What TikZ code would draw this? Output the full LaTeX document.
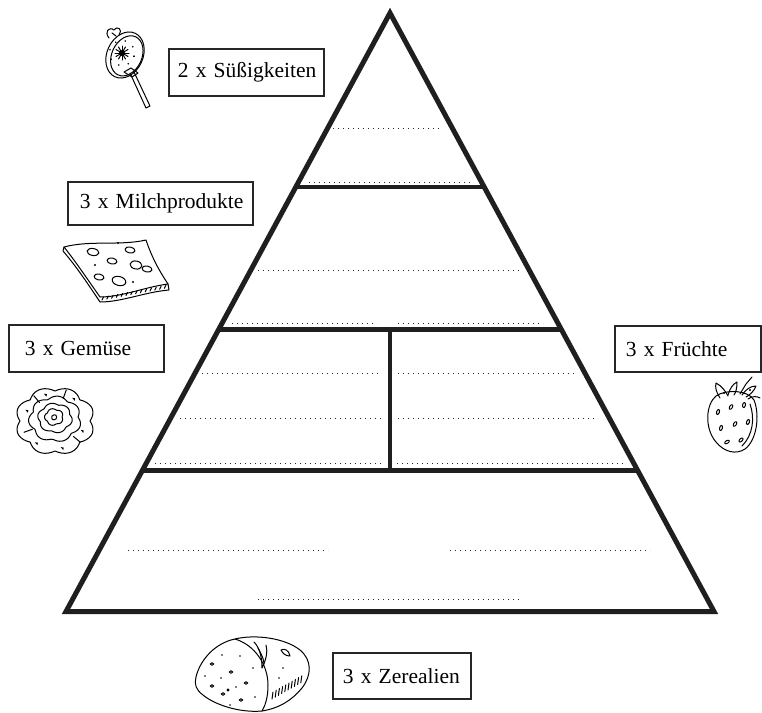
\documentclass[tikz,border=0pt]{standalone}
\usepackage{fontspec}
\setmainfont{Liberation Serif}
\usetikzlibrary{calc}
\begin{document}
\begin{tikzpicture}[x=1pt,y=-1pt,
  pyr/.style={line width=5pt, line join=miter, draw=black!88},
  bar/.style={line width=4.5pt, draw=black!88},
  dots/.style={line width=1pt, dash pattern=on 1pt off 4pt, draw=black!85},
  lbl/.style={draw=black!85, line width=1.8pt, anchor=north west, inner xsep=10pt,
    inner ysep=0pt, align=left, font=\fontsize{21.5}{24}\selectfont},
  art/.style={line width=1pt, line cap=round, line join=round, draw=black}
]
\useasboundingbox (0,0) rectangle (762,712);

% ---------- pyramid ----------
\coordinate (apex) at (390,13);
\coordinate (bl) at (66,611.5);
\coordinate (br) at (714,611.5);
\draw[pyr] (apex) -- (bl) -- (br) -- cycle;

\coordinate (b1l) at ($(apex)!0.291!(bl)$);  \coordinate (b1r) at ($(apex)!0.291!(br)$);
\coordinate (b2l) at ($(apex)!0.5284!(bl)$); \coordinate (b2r) at ($(apex)!0.5284!(br)$);
\coordinate (b3l) at ($(apex)!0.7642!(bl)$); \coordinate (b3r) at ($(apex)!0.7642!(br)$);
\draw[bar] (b1l) -- (b1r);
\draw[bar] (b2l) -- (b2r);
\draw[bar] (b3l) -- (b3r);
\coordinate (mtop) at ($(b2l)!0.5!(b2r)$);
\coordinate (mbot) at ($(b3l)!0.5!(b3r)$);
\draw[bar] (mtop) -- (mbot);

% ---------- writing lines ----------
\draw[dots] (333,128) -- (442,128);
\draw[dots] (309,182) -- (471,182);
\draw[dots] (258,270) -- (520,270);
\draw[dots] (232,323) -- (377,323);  \draw[dots] (398,323) -- (543,323);
\draw[dots] (202,373) -- (381,373);  \draw[dots] (398,373) -- (577,373);
\draw[dots] (180,418) -- (381,418);  \draw[dots] (398,418) -- (598,418);
\draw[dots] (155,463) -- (382,463);  \draw[dots] (397,463) -- (623,463);
\draw[dots] (128,550) -- (328,550);  \draw[dots] (450,550) -- (650,550);
\draw[dots] (258,599) -- (520,599);

% ---------- labels ----------
\node[lbl, inner xsep=9pt, minimum width=155pt, minimum height=47pt, text width=137pt] (sweets) at (168,48) {\mbox{2 x Süßigkeiten}};
\node[lbl, inner xsep=12pt, minimum width=185pt, minimum height=43pt, text width=161pt] (dairy) at (67,181) {\mbox{3 x Milchprodukte}};
\node[lbl, inner xsep=16pt, minimum width=155pt, minimum height=47pt, text width=123pt] (veg) at (8,324) {\mbox{3 x Gemüse}};
\node[lbl, inner xsep=11pt, minimum width=146pt, minimum height=46pt, text width=124pt] (fruit) at (614,325) {\mbox{3 x Früchte}};
\node[lbl, minimum width=138pt, minimum height=46pt, text width=118pt] (cereal) at (332,652) {\mbox{3 x Zerealien}};

% ---------- lollipop ----------
\begin{scope}[art]
  \draw (130,73) -- (146,108) -- (150,106) -- (134,72);
  \draw[rotate around={-25:(125,55)}] (125,55) ellipse [x radius=18, y radius=24];
  \draw[rotate around={-25:(125,55)}] (127,55) ellipse [x radius=15, y radius=21];
  \foreach \a in {0,30,...,330} \draw (122,53) -- ++(\a:7);
  \fill (122,53) circle [radius=3];
  \foreach \a in {15,60,...,375} \fill ($(122,53)+(\a:12.5)$) circle [radius=0.9];
  \draw (109,38) .. controls (104,32) and (109,26) .. (114,30)
        .. controls (118,25) and (123,30) .. (119,35);
  \draw (112,33) -- (116,36);
  \draw (124,72) -- (131,68) -- (138,73) -- (132,77) -- cycle;
\end{scope}

% ---------- cheese slice ----------
\begin{scope}[art]
  \draw (64,247) .. controls (90,240) and (120,246) .. (146,240)
        .. controls (152,258) and (160,272) .. (168,284)
        .. controls (145,287) and (122,297) .. (100,297)
        .. controls (88,280) and (76,262) .. (64,247) -- cycle;
  \draw (64,247) -- (63,251) .. controls (76,266) and (88,284) .. (100,302)
        .. controls (122,302) and (145,292) .. (169,290) -- (168,284);
  \foreach \i in {0,...,13} \draw ($(102,300)+(\i*4.8,-\i*0.9)$) -- ++(1.5,-3);
  \draw[rotate around={-10:(93,252)}] (93,252) ellipse [x radius=6, y radius=3.5];
  \draw[rotate around={-10:(130,250)}] (130,250) ellipse [x radius=5, y radius=3];
  \draw[rotate around={-10:(112,261)}] (112,261) ellipse [x radius=5, y radius=3];
  \draw[rotate around={-10:(136,265)}] (136,265) ellipse [x radius=6, y radius=4];
  \draw[rotate around={-10:(99,277)}] (99,277) ellipse [x radius=5, y radius=3];
  \draw[rotate around={-15:(119,281)}] (119,281) ellipse [x radius=7, y radius=4.5];
  \draw[rotate around={-10:(147,269)}] (147,269) ellipse [x radius=5, y radius=3];
  \fill (118,243) circle [radius=1.1];
  \fill (95,265) circle [radius=1.1];
  \fill (133,282) circle [radius=1.1];
\end{scope}

% ---------- lettuce ----------
\begin{scope}[art]
  \draw plot[smooth cycle, domain=0:355, samples=72, variable=\t]
    ({55+(35+5*abs(sin(4*\t)))*cos(\t)}, {421+(30+4*abs(sin(4*\t)))*sin(\t)});
  \draw plot[smooth cycle, domain=0:355, samples=72, variable=\t]
    ({55+(23+3.5*abs(sin(3.5*\t+20)))*cos(\t)}, {419+(20+3*abs(sin(3.5*\t+20)))*sin(\t)});
  \draw plot[smooth cycle, domain=0:350, samples=60, variable=\t]
    ({55+(15+2.5*abs(sin(3*\t+50)))*cos(\t)}, {418+(13+2*abs(sin(3*\t+50)))*sin(\t)});
  \draw plot[smooth cycle, domain=0:350, samples=48, variable=\t]
    ({54+(8+1.5*abs(sin(2.5*\t)))*cos(\t)}, {417+(7+1.5*abs(sin(2.5*\t)))*sin(\t)});
  \draw (52,416) .. controls (55,413) and (58,416) .. (56,419) .. controls (53,421) and (51,419) .. (52,416);
  \foreach \a/\r in {20/29,75/28,130/29,200/30,250/28,310/29}
    \fill ($(55,421)+(\a:\r)$) ++(-1.5,-1) -- ++(3,0.5) -- ++(-0.5,2.5) -- cycle;
  \foreach \a in {40,160,230,290} \draw ($(55,421)+(\a:24)$) -- ($(55,421)+(\a:33)$);
\end{scope}

% ---------- strawberry ----------
\begin{scope}[art]
  \draw (716,396) .. controls (706,404) and (704,428) .. (716,442)
        .. controls (724,452) and (736,455) .. (745,449)
        .. controls (757,440) and (760,415) .. (754,400)
        .. controls (748,390) and (726,389) .. (716,396);
  \draw (750,404) .. controls (755,418) and (753,435) .. (742,446);
  \foreach \p/\a in {(718,412)/70,(731,407)/60,(744,405)/80,(721,428)/75,(735,424)/60,(748,422)/70,(727,442)/30,(741,440)/45}
    \draw[rotate around={\a:\p}] \p ellipse [x radius=2.6, y radius=1.4];
  % calyx and stem
  \draw (720,398) .. controls (716,392) and (715,387) .. (716,383) .. controls (722,386) and (726,392) .. (728,396);
  \draw (728,395) .. controls (730,388) and (733,384) .. (737,382) .. controls (737,388) and (736,392) .. (734,395);
  \draw (742,395) .. controls (746,389) and (751,386) .. (756,386) .. controls (754,391) and (750,395) .. (746,397);
  \draw (748,399) .. controls (752,396) and (757,396) .. (760,398);
  \draw (740,394) -- (746,384) -- (752,377);
  \fill (724,393) circle [radius=1.2];
  \fill (750,390) circle [radius=1.2];
\end{scope}

% ---------- bread ----------
\begin{scope}[art]
  \draw (196,677) .. controls (200,660) and (215,643) .. (235,639)
        .. controls (255,634) and (285,638) .. (300,650)
        .. controls (312,660) and (312,675) .. (302,688)
        .. controls (292,700) and (280,708) .. (262,711)
        .. controls (240,713) and (215,705) .. (203,695)
        .. controls (196,690) and (194,684) .. (196,677) -- cycle;
  \draw (235,639) .. controls (255,645) and (268,665) .. (268,685)
        .. controls (268,698) and (265,706) .. (262,711);
  \draw (254,642) .. controls (260,648) and (262,658) .. (262,668)
        .. controls (266,660) and (268,652) .. (266,645);
  \draw (258,648) .. controls (262,655) and (264,660) .. (264,664);
  \draw (281,650) .. controls (284,648) and (289,650) .. (290,656)
        .. controls (286,656) and (283,654) .. (281,650);
  \foreach \i in {0,...,9} \draw ($(272,699)+(\i*3.2,-\i*1.8)$) -- ++(1,-7);
  \foreach \p in {(212,664),(212,686),(231,672),(223,694),(246,683),(241,700)}
    \draw \p ellipse [x radius=1.8, y radius=1.3];
  \foreach \p in {(222,655),(240,656),(205,676),(221,678),(236,687),(253,668),(255,697),(230,705),(283,668),(279,678)}
    \fill \p circle [radius=0.8];
  \fill (228,690) circle [radius=1.6];
\end{scope}
\end{tikzpicture}
\end{document}
